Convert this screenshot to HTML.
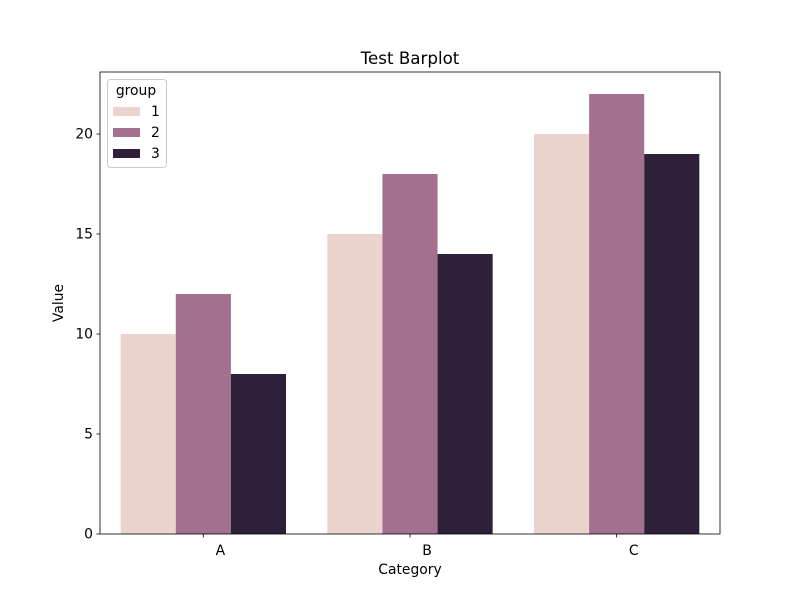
<!DOCTYPE html>
<html><head><meta charset="utf-8"><style>body{margin:0;background:#fff}svg{font-family:"DejaVu Sans","Liberation Sans",sans-serif}</style></head>
<body>
<svg id="chart" width="800" height="600" xmlns="http://www.w3.org/2000/svg"></svg>
<script>
const categories=["A","B","C"];
const groups=["1","2","3"];
const group1=[10,15,20];
const group2=[12,18,22];
const group3=[8,14,19];
const yTicks=[0,5,10,15,20];
const series=[group1,group2,group3];
const colors=["#ebd3ce","#a3708f","#2e2039"];
const L=100,R=720,T=72,B=534;
const yMax=Math.max(...series.flat())*1.05;
const y=v=>B-(v/yMax)*(B-T);
const band=(R-L)/categories.length;
const x=i=>L+band*(i+0.5);
const bw=band*0.8/groups.length;
const svg=document.getElementById('chart');
const NS="http://www.w3.org/2000/svg";
function mk(t,a,txt){const e=document.createElementNS(NS,t);for(const k in a)e.setAttribute(k,a[k]);if(txt!==undefined)e.textContent=txt;svg.appendChild(e);return e;}
series.forEach((s,g)=>s.forEach((v,i)=>{
 const e=mk('rect',{x:x(i)-band*0.4+g*bw,y:y(v),width:bw,height:B-y(v),fill:colors[g]});
 
 
}));
yTicks.forEach(t=>{
 const l=mk('line',{x1:L-3.5,x2:L,y1:y(t),y2:y(t),stroke:'#000','stroke-width':0.8});
 
 
 const tx=mk('text',{x:L-7,y:y(t)+4.5,'text-anchor':'end','font-size':13.9},t);
 
 
});
categories.forEach((c,i)=>{
 const l=mk('line',{x1:x(i),x2:x(i),y1:B,y2:B+3.5,stroke:'#000','stroke-width':0.8});
 
 
 const tx=mk('text',{x:x(i)+17,y:B+21,'text-anchor':'middle','font-size':13.9},c);
 
 
});
const fr=mk('rect',{x:L,y:T,width:R-L,height:B-T,fill:'none',stroke:'#000','stroke-width':0.8});


const ti=mk('text',{x:410,y:64,'text-anchor':'middle','font-size':16.7},'Test Barplot');


const xl=mk('text',{x:410,y:574,'text-anchor':'middle','font-size':13.9},'Category');


const yl=mk('text',{x:63,y:303,'text-anchor':'middle','font-size':13.9,transform:'rotate(-90 63 303)'},'Value');


const lg=mk('rect',{x:107.5,y:79.5,width:59,height:88,rx:3,fill:'#fff','fill-opacity':0.8,stroke:'#ccc'});


const lt=mk('text',{x:136,y:95,'text-anchor':'middle','font-size':13.9},'group');


groups.forEach((g,k)=>{
 const r=mk('rect',{x:113,y:107+k*21,width:27,height:9,fill:colors[k]});
 
 
 const t=mk('text',{x:151,y:116+k*21,'font-size':13.9},g);
 
 
});
</script>
</body></html>
